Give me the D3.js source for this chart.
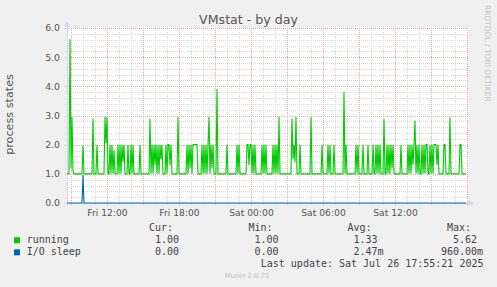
<!DOCTYPE html>
<html>
<head>
<meta charset="utf-8">
<script src="https://cdn.jsdelivr.net/npm/d3@7"></script>
<style>
  body { margin: 0; background: #f0f0f0; }
  svg { display: block; }
  text { font-family: 'DejaVu Sans', sans-serif; }
  .mono { font-family: 'DejaVu Sans Mono', monospace; }
</style>
</head>
<body>
<div id="chart"></div>
<script>
// time window of the day graph, one sample every 5 minutes
var startTime = new Date(2025, 6, 25, 8, 40)
var endTime = new Date(2025, 6, 26, 18, 0)
var stepMinutes = 5

// running processes (400 samples)
var running = [
  1, 1, 1, 5.62, 1.2, 2.95, 1.1, 1, 1, 1, 1, 1, 1, 1, 1, 1, 1.97, 1, 1, 1,
  1, 1, 1, 1, 1, 1, 2.9, 1, 1, 1, 2, 1, 1, 1, 1, 1, 1, 1, 2.95, 2.05,
  2.95, 1, 1, 2, 1, 2, 1, 1.8, 1, 1, 1, 2, 1, 2, 1, 2, 1.4, 2, 1, 1,
  1, 2, 1, 1, 2, 1, 2, 1, 1, 1, 1, 1, 1, 2, 1, 1, 1, 1, 1, 1,
  1, 1, 1, 2.9, 1, 2, 1, 2, 1.3, 2, 1, 2, 1, 2, 1.5, 2, 1, 1, 1, 2,
  1, 2, 2, 1.3, 2, 1, 1, 1, 1, 1, 1, 2.95, 1, 1, 1, 1, 1, 1, 1, 1,
  2, 1, 2, 1.2, 2, 1, 2, 2, 2, 2, 2, 1, 1, 1, 1, 2, 1, 2, 1, 2,
  1, 2, 2.95, 1, 2, 1.2, 2, 1, 1, 1, 3.91, 1, 1, 1, 1, 1, 1, 1, 1, 1,
  2, 1, 1, 1, 1, 1, 1, 1, 1, 1, 2, 1, 2, 1, 1, 1, 1, 1, 1, 1,
  2, 2, 1.3, 2, 2, 1, 2, 1, 2, 1, 1, 1, 1, 1, 1, 2, 1, 2, 1, 2,
  1, 1, 1, 1, 1, 1, 2, 1, 2, 1, 2, 1, 2.95, 1, 1, 1, 1, 1, 1, 1,
  1, 1, 1, 1, 1, 2.9, 1.5, 2, 1.4, 2.95, 1, 1, 1, 2, 1, 1, 1, 1, 1, 1,
  1, 1, 1, 1, 2.95, 1, 1, 1, 1, 1, 1, 1, 1, 1, 1, 2, 1, 1, 1, 1,
  1, 2, 1, 2, 1, 1, 1, 2, 1, 1, 1, 1, 1, 1, 1, 1, 1, 3.82, 1, 2,
  1, 1, 1, 1, 1, 1, 1, 1, 1, 2, 1, 2, 1, 1, 1, 1, 2, 1, 1, 1,
  1, 2, 1, 1, 1, 1, 2, 1, 1, 2, 1, 2, 1, 2, 1, 1, 1, 2.88, 1, 1,
  2, 1, 2, 1, 2, 1.2, 2, 1, 1, 1, 1, 1, 1, 1, 2, 1, 1, 1, 1, 1,
  1, 2, 1, 2, 1, 2, 1.3, 2, 2.83, 1, 2, 1, 2, 1, 1, 2, 1, 2, 1, 2,
  2, 1, 1, 2, 1, 2, 1, 2, 2, 2, 1.3, 2, 1, 1, 1, 1, 1, 2, 2, 1,
  1, 1, 1, 2.94, 1, 1, 1, 1, 1, 1, 1, 1, 1, 2, 2, 1, 1, 1, 1, 1
]

// I/O sleep is flat at zero apart from one sample
var ioSleepIndex = [0, 15, 16, 17, 399]
var ioSleepValues = [0, 0, 0.96, 0, 0]

var seriesNames = ['running', 'I/O sleep']
var seriesColors = ['#00cc00', '#0066b3']
var statHeaders = ['Cur:', 'Min:', 'Avg:', 'Max:']
var runningStats = [1.0, 1.0, 1.33, 5.62]
var ioSleepStats = [0, 0, 0.00247, 0.96]
var yDomain = [0, 6]

var title = 'VMstat - by day'
var yLabel = 'process states'
var lastUpdate = 'Last update: Sat Jul 26 17:55:21 2025'
var watermark = 'RRDTOOL / TOBI OETIKER'
var footer = 'Munin 2.0.75'

var width = 497
var height = 287
var plot = { left: 67, right: 468, top: 28, bottom: 203 }

var svg = d3
  .select('#chart')
  .append('svg')
  .attr('width', width)
  .attr('height', height)

svg.append('rect')
  .attr('width', width)
  .attr('height', height)
  .attr('fill', '#f0f0f0')

var xScale = d3.scaleTime().domain([startTime, endTime]).range([67, 467])
var yScale = d3.scaleLinear().domain(yDomain).range([plot.bottom, plot.top])

function sampleTime(i) {
  return new Date(startTime.getTime() + i * stepMinutes * 60000)
}

// canvas
svg.append('rect')
  .attr('x', plot.left)
  .attr('y', plot.top)
  .attr('width', plot.right - plot.left)
  .attr('height', plot.bottom - plot.top)
  .attr('fill', '#ffffff')

var minorColor = '#dadada'
var majorColor = '#eeaaaa'

// horizontal grid
var yMinor = yScale.ticks(30).filter(d => Math.abs(d - Math.round(d)) > 1e-6)
var yMajor = yScale.ticks(6)

svg.selectAll('.hminor')
  .data(yMinor)
  .enter()
  .append('line')
  .attr('class', 'hminor')
  .attr('x1', plot.left - 2)
  .attr('x2', plot.right)
  .attr('y1', d => Math.round(yScale(d)) + 0.5)
  .attr('y2', d => Math.round(yScale(d)) + 0.5)
  .attr('stroke', minorColor)
  .attr('stroke-dasharray', '1,1')

// vertical grid
var xMinor = xScale.ticks(d3.timeHour.every(1)).filter(d => d.getHours() % 3 !== 0)
var xMajor = xScale.ticks(d3.timeHour.every(3))
var xLabels = xScale.ticks(d3.timeHour.every(6)).filter(d => d < endTime)

svg.selectAll('.vminor')
  .data(xMinor)
  .enter()
  .append('line')
  .attr('class', 'vminor')
  .attr('x1', d => Math.round(xScale(d)) + 0.5)
  .attr('x2', d => Math.round(xScale(d)) + 0.5)
  .attr('y1', plot.top)
  .attr('y2', plot.bottom + 2)
  .attr('stroke', minorColor)
  .attr('stroke-dasharray', '1,1')

svg.selectAll('.vmajor')
  .data(xMajor)
  .enter()
  .append('line')
  .attr('class', 'vmajor')
  .attr('x1', d => Math.round(xScale(d)) + 0.5)
  .attr('x2', d => Math.round(xScale(d)) + 0.5)
  .attr('y1', plot.top)
  .attr('y2', plot.bottom + 2)
  .attr('stroke', majorColor)
  .attr('stroke-dasharray', '1,1')

svg.selectAll('.hmajor')
  .data(yMajor)
  .enter()
  .append('line')
  .attr('class', 'hmajor')
  .attr('x1', plot.left - 2)
  .attr('x2', plot.right)
  .attr('y1', d => Math.round(yScale(d)) + 0.5)
  .attr('y2', d => Math.round(yScale(d)) + 0.5)
  .attr('stroke', majorColor)
  .attr('stroke-dasharray', '1,1')

// axes with arrows
var axisColor = '#cfd6f8'
svg.append('line')
  .attr('x1', plot.left + 0.5).attr('x2', plot.left + 0.5)
  .attr('y1', plot.bottom + 3).attr('y2', 25)
  .attr('stroke', axisColor)
svg.append('path')
  .attr('d', 'M64,26.5 L70.5,26.5 L67.25,21 Z')
  .attr('fill', axisColor)
svg.append('line')
  .attr('x1', plot.left - 3).attr('x2', 470)
  .attr('y1', plot.bottom + 0.5).attr('y2', plot.bottom + 0.5)
  .attr('stroke', axisColor)
svg.append('path')
  .attr('d', 'M468.5,200 L468.5,206.5 L474,203.25 Z')
  .attr('fill', axisColor)

// y tick labels
svg.selectAll('.ylab')
  .data(yMajor)
  .enter()
  .append('text')
  .attr('class', 'ylab')
  .attr('x', 60)
  .attr('y', d => yScale(d) + 3.4)
  .attr('text-anchor', 'end')
  .attr('font-size', 9.3)
  .attr('fill', '#555')
  .text(d3.format('.1f'))

// x tick labels
svg.selectAll('.xlab')
  .data(xLabels)
  .enter()
  .append('text')
  .attr('class', 'xlab')
  .attr('x', d => xScale(d) + 0.5)
  .attr('y', 215.5)
  .attr('text-anchor', 'middle')
  .attr('font-size', 9.2)
  .attr('fill', '#555')
  .text(d3.timeFormat('%a %H:%M'))

// series
var runLine = d3.line()
  .x((d, i) => xScale(sampleTime(i)))
  .y(d => yScale(d))

svg.append('path')
  .datum(running)
  .attr('d', runLine)
  .attr('fill', 'none')
  .attr('stroke', seriesColors[0])
  .attr('stroke-width', 1.1)

var ioLine = d3.line()
  .x((d, i) => xScale(sampleTime(ioSleepIndex[i])))
  .y(d => yScale(d))

svg.append('path')
  .datum(ioSleepValues)
  .attr('d', ioLine)
  .attr('fill', 'none')
  .attr('stroke', seriesColors[1])
  .attr('stroke-width', 1.1)

// titles
svg.append('text')
  .attr('x', 248.5)
  .attr('y', 24)
  .attr('text-anchor', 'middle')
  .attr('font-size', 12.6)
  .attr('fill', '#555')
  .text(title)

svg.append('text')
  .attr('transform', 'translate(13.3,114.5) rotate(-90)')
  .attr('text-anchor', 'middle')
  .attr('font-size', 11.2)
  .attr('fill', '#555')
  .text(yLabel)

svg.append('text')
  .attr('transform', 'translate(485,5) rotate(90)')
  .attr('font-size', 7.5)
  .attr('fill', '#c4c4c4')
  .text(watermark)

// legend
var colRight = [179, 278.5, 377.5, 477]
var rowY = [243, 255]
var legendColor = '#444'

svg.selectAll('.head')
  .data(statHeaders)
  .enter()
  .append('text')
  .attr('class', 'head mono')
  .attr('x', (d, i) => colRight[i] - 30)
  .attr('y', 231)
  .attr('font-size', 10)
  .attr('fill', legendColor)
  .text(d => d)

function fmtStat(v) {
  if (v !== 0 && Math.abs(v) < 1) return [(v * 1000).toFixed(2), 'm']
  return [v.toFixed(2), '']
}

var statRows = [runningStats, ioSleepStats]

statRows.forEach((stats, r) => {
  svg.append('rect')
    .attr('x', 14)
    .attr('y', rowY[r] - 5.7)
    .attr('width', 6)
    .attr('height', 6)
    .attr('fill', seriesColors[r])

  svg.append('text')
    .attr('class', 'mono')
    .attr('x', 26.7)
    .attr('y', rowY[r])
    .attr('font-size', 10)
    .attr('fill', legendColor)
    .text(seriesNames[r])

  stats.forEach((v, c) => {
    var parts = fmtStat(v)
    svg.append('text')
      .attr('class', 'mono')
      .attr('x', colRight[c])
      .attr('y', rowY[r])
      .attr('text-anchor', 'end')
      .attr('font-size', 10)
      .attr('fill', legendColor)
      .text(parts[0])
    if (parts[1]) {
      svg.append('text')
        .attr('class', 'mono')
        .attr('x', colRight[c])
        .attr('y', rowY[r])
        .attr('font-size', 10)
        .attr('fill', legendColor)
        .text(parts[1])
    }
  })
})

svg.append('text')
  .attr('class', 'mono')
  .attr('x', 483.5)
  .attr('y', 267)
  .attr('text-anchor', 'end')
  .attr('font-size', 10)
  .attr('fill', legendColor)
  .text(lastUpdate)

svg.append('text')
  .attr('x', 247)
  .attr('y', 278)
  .attr('text-anchor', 'middle')
  .attr('font-size', 6.8)
  .attr('fill', '#c0c0c0')
  .text(footer)
</script>
</body>
</html>
